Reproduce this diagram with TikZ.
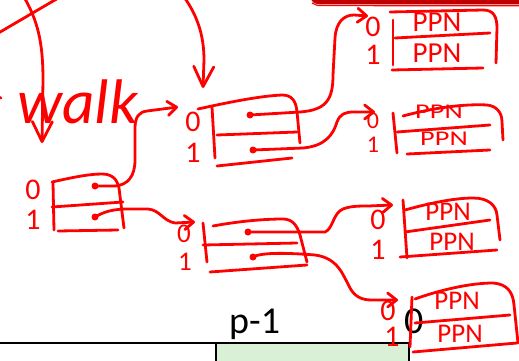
\documentclass[tikz,border=0pt]{standalone}
\usepackage{fontspec}
\setmainfont{Carlito}
\usetikzlibrary{arrows.meta}
\definecolor{pen}{RGB}{255,0,0}
\definecolor{banner}{RGB}{192,0,0}
\definecolor{cellgreen}{RGB}{218,240,214}

\begin{document}
\begin{tikzpicture}[x=1pt,y=-1pt,
  ink/.style={draw=pen,line width=2.8pt,line cap=round,line join=round},
  ptr/.style={ink,-{Straight Barb[length=9pt,width=14pt,round]}},
  bigptr/.style={ink,-{Straight Barb[length=20pt,width=20pt,round]}},
  digit/.style={text=pen,font=\fontsize{30}{30}\selectfont,inner sep=0pt},
  ppn/.style={text=pen,font=\fontsize{29}{29}\selectfont,inner sep=0pt},
  dot/.style={circle,fill=pen,inner sep=0pt,minimum size=7pt},
  grid/.style={draw=black,line width=2pt},
  heading/.style={text=black,font=\fontsize{38}{38}\selectfont,inner sep=0pt,anchor=base west}
]
\useasboundingbox (0,0) rectangle (519,361);
\clip (0,0) rectangle (519,361);

% ---- table row at the bottom ----
\fill[cellgreen] (216,343) rectangle (409,366);
\draw[grid] (-3,343) -- (409,343);
\draw[grid] (216,343) -- (216,366);
\draw[grid] (409,343) -- (409,366);
\node[heading] (colp) at (229,333) {p-1};
\node[heading] (col0) at (404,333) {0};

% ---- banner edge at the top ----
\fill[banner] (311,-3) .. controls (311,2.5) and (315,4.5) .. (322,4.5) -- (525,4.5) -- (525,-3) -- cycle;
\draw[pen,line width=1.2pt] (312,3) .. controls (315,5.2) and (318,5.6) .. (322,5.6) -- (525,5.8);

% ---- strokes coming from above ----
\draw[ink] (-5,35) -- (60,-3);
\draw[ink] (-2,97) -- (1,98);
\coordinate (tA) at (42,143);
\coordinate (tB) at (203,88);
\draw[bigptr] (24,-3) .. controls (37,20) and (43,40) .. (43,80) -- (tA);
\draw[bigptr] (184,-3) .. controls (197,15) and (204,35) .. (204,60) -- (tB);

\node[text=pen,font=\fontsize{63}{63}\selectfont\itshape,anchor=base west,inner sep=0pt] (walk) at (17,123) {walk};

% ---- root table ----
\node[digit] (L0) at (33,190) {0};
\node[digit] (L1) at (33,220) {1};
\draw[ink] (53,183) -- (54,230);
\draw[ink] (52,182) .. controls (70,178) and (88,174) .. (102,174) .. controls (112,174) and (117,179) .. (119,188) -- (124,228);
\draw[ink] (52,207) -- (123,202);
\draw[ink] (58,231) -- (118,230);
\node[dot] (dL0) at (95,186) {};
\node[dot] (dL1) at (95,217) {};

% ---- upper middle table ----
\node[digit] (M10) at (193,122) {0};
\node[digit] (M11) at (193,153) {1};
\draw[ink] (212,107) -- (215,158);
\draw[ink] (198,109) .. controls (230,102) and (260,96) .. (282,95) .. controls (292,95) and (296,101) .. (297,112) -- (300,143);
\draw[ink] (217,135) -- (297,132);
\draw[ink] (217,166) -- (292,158);
\node[dot] (dM10) at (250,115) {};
\node[dot] (dM11) at (253,150) {};

% ---- lower middle table ----
\node[digit,font=\fontsize{27}{27}\selectfont] (M20) at (184,234) {0};
\node[digit,font=\fontsize{27}{27}\selectfont] (M21) at (185,262) {1};
\draw[ink] (203,223) -- (207,262);
\draw[ink] (213,226) .. controls (240,221) and (265,219) .. (283,219) .. controls (292,219) and (297,225) .. (300,235) -- (307,262);
\draw[ink] (203,245) -- (297,243);
\draw[ink] (210,272) -- (307,265);
\node[dot] (dM20) at (248,232) {};
\node[dot] (dM21) at (253,257) {};

% ---- leaf tables ----
\node[digit] (R10) at (373,27) {0};
\node[digit] (R11) at (373,55) {1};
\draw[ink] (393,20) -- (393,65);
\draw[ink] (390,12) -- (483,10) .. controls (493,10) and (497,16) .. (497,28) -- (496,63);
\draw[ink] (395,38) -- (490,33);
\draw[ink] (392,70) -- (483,68);
\node[ppn] (P10) at (437,22) {PPN};
\node[ppn] (P11) at (437,53) {PPN};

\node[digit,font=\fontsize{24}{24}\selectfont] (R20) at (373,121) {0};
\node[digit,font=\fontsize{24}{24}\selectfont] (R21) at (373,145) {1};
\draw[ink] (393,113) -- (397,153);
\draw[ink] (403,116) .. controls (440,106) and (470,104) .. (487,105) .. controls (497,106) and (502,113) .. (502,122) -- (503,140);
\draw[ink] (397,132) -- (490,125);
\draw[ink] (407,154) -- (490,150);
\node[ppn,font=\fontsize{21}{21}\selectfont] (P20) at (439,112) {\scalebox{1.35}[1]{PPN}};
\node[ppn,font=\fontsize{21}{21}\selectfont] (P21) at (444,139) {\scalebox{1.35}[1]{PPN}};

\node[digit] (R30) at (378,220) {0};
\node[digit] (R31) at (378,250) {1};
\draw[ink] (403,200) -- (407,258);
\draw[ink] (405,210) .. controls (430,203) and (455,198) .. (473,198) .. controls (488,198) and (496,205) .. (497,215) -- (500,240);
\draw[ink] (405,232) -- (490,220);
\draw[ink] (400,257) -- (497,250);
\node[ppn,font=\fontsize{27}{27}\selectfont] (P30) at (448,212) {PPN};
\node[ppn,font=\fontsize{27}{27}\selectfont] (P31) at (452,242) {PPN};

\node[digit] (R40) at (388,311) {0};
\node[digit] (R41) at (392,337) {1};
\draw[ink] (412,297) -- (410,347);
\draw[ink] (415,299) .. controls (440,290) and (470,283) .. (493,283) .. controls (507,284) and (513,292) .. (514,305) -- (518,343);
\draw[ink] (415,323) -- (510,315);
\draw[ink] (413,352) -- (517,343);
\node[ppn,font=\fontsize{27}{27}\selectfont] (P40) at (457,301) {PPN};
\node[ppn,font=\fontsize{27}{27}\selectfont] (P41) at (460,334) {PPN};

% ---- pointers ----
\coordinate (tM1) at (178,107);
\coordinate (tM2) at (195,222);
\coordinate (tR1) at (368,16);
\coordinate (tR2) at (375,112);
\coordinate (tR3) at (393,205);
\coordinate (tR4) at (398,300);
\draw[ptr] (dL0.center) -- (115,186) .. controls (128,185) and (135,176) .. (135,160) -- (135,128) .. controls (135,117) and (139,112) .. (147,111) -- (tM1);
\draw[ptr] (dL1.center) .. controls (105,211) and (115,209) .. (128,209) -- (148,209) .. controls (160,210) and (163,221) .. (175,223) -- (tM2);
\draw[ptr] (dM10.center) -- (300,112) .. controls (326,110) and (333,100) .. (333,75) -- (335,38) .. controls (336,22) and (344,15) .. (354,15) -- (tR1);
\draw[ptr] (dM11.center) -- (303,148) .. controls (325,146) and (333,135) .. (337,122) .. controls (340,114) and (345,112) .. (354,112) -- (tR2);
\draw[ptr] (dM20.center) -- (325,232) .. controls (333,229) and (333,213) .. (343,209) .. controls (350,206) and (360,206) .. (368,206) -- (tR3);
\draw[ptr] (dM21.center) .. controls (262,252) and (290,253) .. (315,255) .. controls (338,258) and (343,275) .. (350,288) .. controls (355,297) and (362,300) .. (372,300) -- (tR4);
\end{tikzpicture}
\end{document}
